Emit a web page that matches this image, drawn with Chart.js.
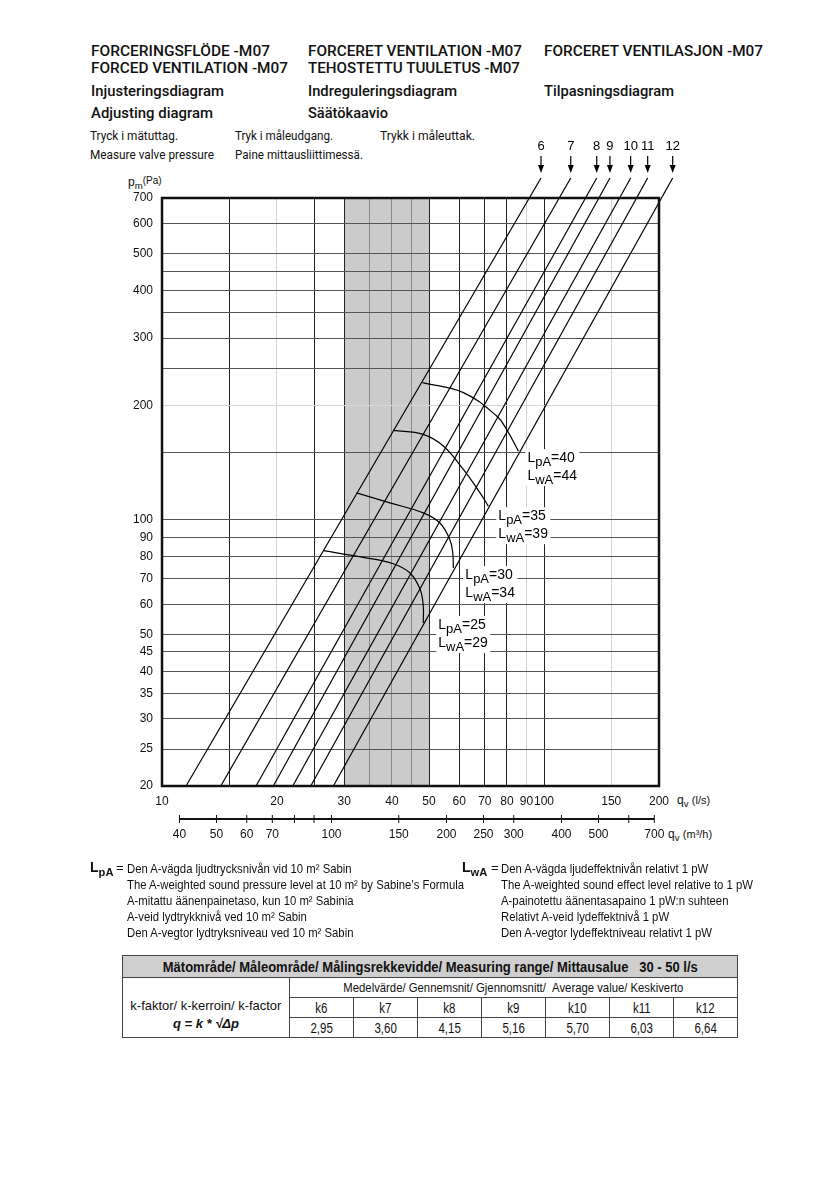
<!DOCTYPE html>
<html>
<head>
<meta charset="utf-8">
<script src="https://cdn.jsdelivr.net/npm/chart.js@4.4.1/dist/chart.umd.min.js"></script>
<style>
body{margin:0;background:#fff;width:839px;height:1191px;position:relative;overflow:hidden;color:#111;font-family:"Liberation Sans",Arial,sans-serif}
.t{position:absolute;white-space:nowrap;line-height:1}
.h{font-family:Roboto,sans-serif;font-size:14.2px;font-weight:500}
.s{font-family:Roboto,sans-serif;font-size:12.5px}
.n{font-size:13px}
.ax{font-size:12px}
sub{font-size:0.8em;vertical-align:-0.35em;line-height:0}
#wrap{position:absolute;left:0;top:0;width:839px;height:870px}
table{position:absolute;left:122px;top:955px;border-collapse:collapse;font-size:13px}
td,th{border:1px solid #444;padding:0;text-align:center;height:19px;overflow:hidden;white-space:nowrap}
th{background:#cfcfcf;height:21px;font-size:14px}
td.k{width:63px;font-size:14px}
td.left{width:166px;vertical-align:top;padding-top:19px;line-height:18px}
.fit{display:inline-block;white-space:nowrap}
</style>
</head>
<body>
<div class="t h" data-w="179" style="left:91px;top:43.5px">FORCERINGSFLÖDE -M07</div>
<div class="t h" data-w="197" style="left:91px;top:60.5px">FORCED VENTILATION -M07</div>
<div class="t h" data-w="133" style="left:91px;top:83.5px">Injusteringsdiagram</div>
<div class="t h" data-w="122" style="left:91px;top:106px">Adjusting diagram</div>
<div class="t h" data-w="214" style="left:308px;top:43.5px">FORCERET VENTILATION -M07</div>
<div class="t h" data-w="212" style="left:308px;top:60.5px">TEHOSTETTU TUULETUS -M07</div>
<div class="t h" data-w="149" style="left:308px;top:83.5px">Indreguleringsdiagram</div>
<div class="t h" data-w="80" style="left:308px;top:106px">Säätökaavio</div>
<div class="t h" data-w="219" style="left:544px;top:43.5px">FORCERET VENTILASJON -M07</div>
<div class="t h" data-w="130" style="left:544px;top:83.5px">Tilpasningsdiagram</div>

<div class="t s" data-w="88" style="left:90px;top:129.7px">Tryck i mätuttag.</div>
<div class="t s" data-w="124" style="left:90px;top:148.5px">Measure valve pressure</div>
<div class="t s" data-w="98" style="left:235px;top:129.7px">Tryk i måleudgang.</div>
<div class="t s" data-w="128" style="left:235px;top:148.5px">Paine mittausliittimessä.</div>
<div class="t s" data-w="95" style="left:380px;top:129.7px">Trykk i måleuttak.</div>

<div class="t ax" style="left:128px;top:176px">p<sub>m</sub><span style="font-size:10px;vertical-align:2px">(Pa)</span></div>
<div class="t ax" style="left:677px;top:794px">q<sub>v</sub> <span style="font-size:11px">(l/s)</span></div>
<div class="t ax" style="left:668px;top:828px">q<sub>v</sub> <span style="font-size:11px">(m³/h)</span></div>

<div id="wrap"><canvas id="chart"></canvas></div>

<div class="t" style="left:90px;top:860px;font-size:14px;font-weight:bold">L<sub>pA</sub></div>
<div class="t n" style="left:116px;top:861px">=</div>
<div class="t n" data-w="337" style="left:127px;top:861px;line-height:16px">Den A-vägda ljudtrycksnivån vid 10 m² Sabin<br>The A-weighted sound pressure level at 10 m² by Sabine’s Formula<br>A-mitattu äänenpainetaso, kun 10 m² Sabinia<br>A-veid lydtrykknivå ved 10 m² Sabin<br>Den A-vegtor lydtryksniveau ved 10 m² Sabin</div>
<div class="t" style="left:462px;top:860px;font-size:14px;font-weight:bold">L<sub>wA</sub></div>
<div class="t n" style="left:491px;top:861px">=</div>
<div class="t n" data-w="252" style="left:501px;top:861px;line-height:16px">Den A-vägda ljudeffektnivån relativt 1 pW<br>The A-weighted sound effect level relative to 1 pW<br>A-painotettu äänentasapaino 1 pW:n suhteen<br>Relativt A-veid lydeffektnivå 1 pW<br>Den A-vegtor lydeffektniveau relativt 1 pW</div>

<table id="ktable"></table>

<script>
// flow lines for settings 6..12, read at the bottom (20 Pa) and above the frame (790 Pa)
const lineNames = ['6', '7', '8', '9', '10', '11', '12'];
const lineQBottom = [11.56, 14.25, 17.63, 19.56, 21.99, 24.51, 28.09];
const lineQTop = [98.2, 117.5, 137.4, 148.8, 168.6, 186.8, 217.2];
const linePBottom = 20;
const linePTop = 790;

// sound level curves
const lpaLevels = [25, 30, 35, 40];
const lwaLevels = [29, 34, 39, 44];
const curveQ = [
  [26.45, 33.65, 40.3, 44.6, 47.4, 48.3, 48.3],
  [32.3, 39.5, 48.3, 53.4, 56.7, 57.7, 57.9],
  [40.3, 48.3, 54.5, 61.5, 68.0, 71.5],
  [48.1, 61.5, 75.2, 79.8, 85.7]
];
const curveP = [
  [83.0, 79.7, 76.7, 72.5, 65.6, 59.3, 53.6],
  [117.7, 110.8, 104.3, 98.1, 88.7, 81.8, 74.7],
  [171.7, 167.6, 156.2, 135.6, 117.7, 108.6],
  [229.2, 215.8, 187.3, 172.8, 151.5]
];

// axes
const xTicks = [10, 15, 20, 25, 30, 35, 40, 45, 50, 60, 70, 80, 90, 100, 150, 200];
const xLabels = [10, 20, 30, 40, 50, 60, 70, 80, 90, 100, 150, 200];
const yTicks = [20, 25, 30, 35, 40, 45, 50, 60, 70, 80, 90, 100, 150, 200, 250, 300, 350, 400, 450, 500, 600, 700];
const yLabels = [20, 25, 30, 35, 40, 45, 50, 60, 70, 80, 90, 100, 200, 300, 400, 500, 600, 700];
const m3hTicks = [40, 50, 60, 70, 80, 90, 100, 150, 200, 250, 300, 400, 500, 600, 700];
const m3hLabels = [40, 50, 60, 70, 100, 150, 200, 250, 300, 400, 500, 700];
const rangeQ = [30, 50];

// k-factor table
const kLabels = ['k6', 'k7', 'k8', 'k9', 'k10', 'k11', 'k12'];
const kValues = ['2,95', '3,60', '4,15', '5,16', '5,70', '6,03', '6,64'];

// label placement of the sound curves (pixels from curve end)
const labelDx = [15, 12, 10, 9];
const labelDy = [0, 5, 8, 5];

const lightX = [20, 90, 150];
const bandX = [35, 40, 45];

function xGrid(ctx) {
  const v = ctx.tick && ctx.tick.value;
  if (lightX.includes(v)) return '#d2d2d2';
  if (bandX.includes(v)) return '#8a8a8a';
  return '#222';
}
function yGrid(ctx) {
  const v = ctx.tick && ctx.tick.value;
  if (v === 200) return '#d6d6d6';
  return '#555';
}

const datasets = [];
lineNames.forEach((n, i) => {
  datasets.push({
    data: [{x: lineQBottom[i], y: linePBottom}, {x: lineQTop[i], y: linePTop}],
    borderColor: '#000', borderWidth: 1.2, pointRadius: 0, showLine: true, clip: false
  });
});
lpaLevels.forEach((l, i) => {
  datasets.push({
    data: curveQ[i].map((q, j) => ({x: q, y: curveP[i][j]})),
    borderColor: '#000', borderWidth: 1.2, pointRadius: 0, showLine: true, tension: 0.4
  });
});

function drawSubLabel(ctx, x, y, main, sub, rest) {
  const big = '14px "Liberation Sans", Arial', small = '13px "Liberation Sans", Arial';
  ctx.font = big;
  const w1 = ctx.measureText(main).width;
  ctx.font = small;
  const w2 = ctx.measureText(sub).width;
  ctx.fillStyle = '#000';
  ctx.textAlign = 'left';
  ctx.textBaseline = 'alphabetic';
  ctx.font = big;
  ctx.fillText(main, x, y);
  ctx.font = small;
  ctx.fillText(sub, x + w1, y + 4);
  ctx.font = big;
  ctx.fillText(rest, x + w1 + w2, y);
}

const overlay = {
  id: 'overlay',
  beforeDraw(chart) {
    const {ctx, chartArea: a, scales: {x}} = chart;
    ctx.save();
    ctx.fillStyle = '#cbcbcb';
    const x0 = x.getPixelForValue(rangeQ[0]), x1 = x.getPixelForValue(rangeQ[1]);
    ctx.fillRect(x0, a.top, x1 - x0, a.bottom - a.top);
    ctx.restore();
  },
  afterDatasetsDraw(chart) {
    const {ctx, chartArea: a, scales: {x, y, x2}} = chart;
    ctx.save();
    // frame
    ctx.strokeStyle = '#111';
    ctx.lineWidth = 2.5;
    ctx.strokeRect(a.left, a.top, a.right - a.left, a.bottom - a.top);

    // arrows and setting numbers above the lines
    const yTop = y.getPixelForValue(linePTop);
    ctx.lineWidth = 1.2;
    ctx.fillStyle = '#000';
    ctx.strokeStyle = '#000';
    ctx.font = '13px "Liberation Sans", Arial';
    ctx.textAlign = 'center';
    ctx.textBaseline = 'middle';
    lineNames.forEach((n, i) => {
      const px = x.getPixelForValue(lineQTop[i]);
      const tip = yTop - 5;
      ctx.beginPath();
      ctx.moveTo(px, tip - 17);
      ctx.lineTo(px, tip - 6);
      ctx.stroke();
      ctx.beginPath();
      ctx.moveTo(px - 3, tip - 8);
      ctx.lineTo(px + 3, tip - 8);
      ctx.lineTo(px, tip);
      ctx.closePath();
      ctx.fill();
      ctx.fillText(n, px, tip - 27);
    });

    // sound level labels
    lpaLevels.forEach((l, i) => {
      const last = curveQ[i].length - 1;
      const ex = x.getPixelForValue(curveQ[i][last]);
      const ey = y.getPixelForValue(curveP[i][last]);
      const lx = ex + labelDx[i], ly = ey + labelDy[i] + 6;
      ctx.fillStyle = '#fff';
      ctx.fillRect(lx - 2, ly - 13, 54, 37);
      drawSubLabel(ctx, lx, ly, 'L', 'pA', '=' + l);
      drawSubLabel(ctx, lx, ly + 18, 'L', 'wA', '=' + lwaLevels[i]);
    });

    // m3/h scale line
    const ly = x2.top + 9;
    ctx.strokeStyle = '#111';
    ctx.lineWidth = 2.2;
    ctx.beginPath();
    ctx.moveTo(x2.getPixelForValue(m3hTicks[0]), ly);
    ctx.lineTo(x2.getPixelForValue(m3hTicks[m3hTicks.length - 1]), ly);
    ctx.stroke();
    ctx.lineWidth = 1;
    m3hTicks.forEach(v => {
      const px = x2.getPixelForValue(v);
      ctx.beginPath();
      ctx.moveTo(px, ly - 4);
      ctx.lineTo(px, ly + 4);
      ctx.stroke();
    });
    ctx.restore();
  }
};

new Chart('chart', {
  type: 'scatter',
  data: {datasets: datasets},
  plugins: [overlay],
  options: {
    responsive: true,
    maintainAspectRatio: false,
    animation: false,
    events: [],
    layout: {padding: {top: 198, left: 0, right: 180, bottom: 26}},
    plugins: {legend: {display: false}, tooltip: {enabled: false}},
    scales: {
      x: {
        type: 'logarithmic', position: 'bottom', min: 10, max: 200,
        afterBuildTicks: s => { s.ticks = xTicks.map(v => ({value: v})); },
        afterFit: s => { s.height = 24; },
        grid: {color: xGrid, lineWidth: 1, drawTicks: false},
        border: {display: false},
        ticks: {
          autoSkip: false, maxRotation: 0, padding: 8, color: '#111',
          font: {family: '"Liberation Sans", Arial', size: 12},
          callback: v => xLabels.includes(v) ? String(v) : ''
        }
      },
      x2: {
        type: 'logarithmic', position: 'bottom', min: 36, max: 720,
        afterBuildTicks: s => { s.ticks = m3hTicks.map(v => ({value: v})); },
        afterFit: s => { s.height = 34; },
        grid: {display: false, drawTicks: false},
        border: {display: false},
        ticks: {
          autoSkip: false, maxRotation: 0, padding: 17, color: '#111',
          font: {family: '"Liberation Sans", Arial', size: 12},
          callback: v => m3hLabels.includes(v) ? String(v) : ''
        }
      },
      y: {
        type: 'logarithmic', min: 20, max: 700,
        afterBuildTicks: s => { s.ticks = yTicks.map(v => ({value: v})); },
        afterFit: s => { s.width = 162; },
        grid: {color: yGrid, lineWidth: 1, drawTicks: false},
        border: {display: false},
        ticks: {
          autoSkip: false, padding: 9, color: '#111',
          font: {family: '"Liberation Sans", Arial', size: 12},
          callback: v => yLabels.includes(v) ? String(v) : ''
        }
      }
    }
  }
});

// table from the k arrays
const tbl = document.getElementById('ktable');
let html = '<tr><th colspan="8"><span class="fit" data-w="535" data-c="1">Mätområde/ Måleområde/ Målingsrekkevidde/ Measuring range/ Mittausalue &nbsp; 30 - 50 l/s</span></th></tr>';
html += '<tr><td class="left" rowspan="3"><span class="fit" data-w="151" data-c="1">k-faktor/ k-kerroin/ k-factor</span><br><b><i>q = k * √Δp</i></b></td>' +
  '<td colspan="7"><span class="fit" data-w="340" data-c="1">Medelvärde/ Gennemsnit/ Gjennomsnitt/ &nbsp;Average value/ Keskiverto</span></td></tr>';
html += '<tr>' + kLabels.map(k => '<td class="k"><span class="fit" style="transform:scaleX(0.82)">' + k + '</span></td>').join('') + '</tr>';
html += '<tr>' + kValues.map(k => '<td class="k"><span class="fit" style="transform:scaleX(0.82)">' + k + '</span></td>').join('') + '</tr>';
tbl.innerHTML = html;

// squeeze text to the measured widths of the reference
function fitText() {
  document.querySelectorAll('[data-w]').forEach(el => {
    el.style.transform = 'none';
    const w = el.getBoundingClientRect().width;
    el.style.transformOrigin = el.dataset.c ? 'center top' : 'left top';
    el.style.transform = 'scaleX(' + (Number(el.dataset.w) / w) + ')';
  });
}
fitText();
if (document.fonts) document.fonts.ready.then(fitText);
</script>
</body>
</html>
